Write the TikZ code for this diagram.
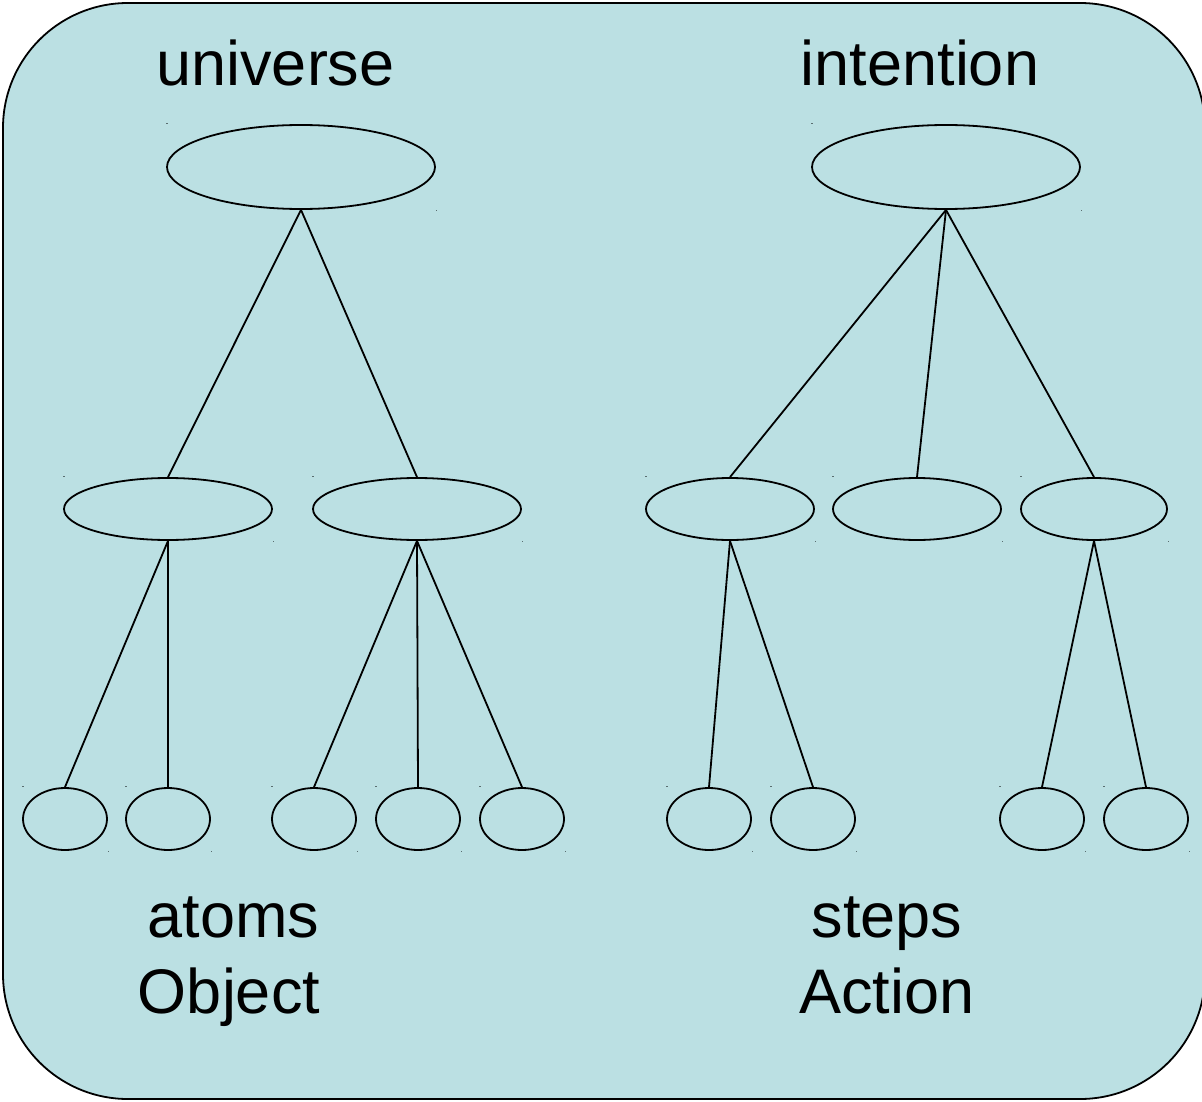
\documentclass[tikz,border=0pt]{standalone}
\usepackage{fontspec}
\setmainfont{Liberation Sans}
\usetikzlibrary{shapes.geometric}
\definecolor{panel}{RGB}{187,224,227}
\definecolor{handle}{RGB}{90,110,112}
\begin{document}
\begin{tikzpicture}[x=1pt,y=-1pt,
  oval/.style={ellipse,draw=black,line width=1.8pt,inner sep=0pt,fill=panel},
  rootoval/.style={oval,minimum width=268pt,minimum height=84pt},
  leaf/.style={oval,minimum width=84pt,minimum height=62pt},
  link/.style={draw=black,line width=1.8pt},
  label/.style={font=\fontsize{63}{75}\selectfont,inner sep=0pt,anchor=base},
  dot/.style={fill=handle}]
\useasboundingbox (0,0) rectangle (1202,1102);
% background panel
\begin{scope}
\clip (0,0) rectangle (1202,1102);
\draw[fill=panel,line width=1.8pt,rounded corners=125pt] (3,3) rectangle (1205,1099);
\end{scope}

% headings
\node[label] (tU) at (275.5,86) {universe};
\node[label] (tI) at (920,86) {intention};
\node[label] (tA) at (233.5,937) {atoms};
\node[label] (tO) at (229,1013) {Object};
\node[label] (tS) at (887,937) {steps};
\node[label] (tC) at (887,1013) {Action};

% left tree
\node[rootoval] (u) at (301,167) {};
\node[oval,minimum width=208pt,minimum height=62pt] (u1) at (168,509) {};
\node[oval,minimum width=208pt,minimum height=62pt] (u2) at (417,509) {};
\node[leaf] (a1) at (65,819) {};
\node[leaf] (a2) at (168,819) {};
\node[leaf] (a3) at (314,819) {};
\node[leaf] (a4) at (418,819) {};
\node[leaf] (a5) at (522,819) {};

% right tree
\node[rootoval] (i) at (946,167) {};
\node[oval,minimum width=168pt,minimum height=62pt] (i1) at (730,509) {};
\node[oval,minimum width=168pt,minimum height=62pt] (i2) at (917,509) {};
\node[oval,minimum width=146pt,minimum height=62pt] (i3) at (1094,509) {};
\node[leaf] (s1) at (709,819) {};
\node[leaf] (s2) at (813,819) {};
\node[leaf] (s3) at (1042,819) {};
\node[leaf] (s4) at (1146,819) {};

% connectors
\foreach \p/\c in {u/u1,u/u2,u1/a1,u1/a2,u2/a3,u2/a4,u2/a5,
                   i/i1,i/i2,i/i3,i1/s1,i1/s2,i3/s3,i3/s4}
  \draw[link] (\p.south) -- (\c.north);

% selection handles at the corners of each shape's bounding box
\foreach \n in {u,u1,u2,a1,a2,a3,a4,a5,i,i1,i2,i3,s1,s2,s3,s4}{
  \fill[dot] (\n.west |- \n.north) ++(0,-1.5) rectangle ++(1.5,1.5);
  \fill[dot] (\n.east |- \n.south) rectangle ++(1.5,1.5);
}
\end{tikzpicture}
\end{document}
